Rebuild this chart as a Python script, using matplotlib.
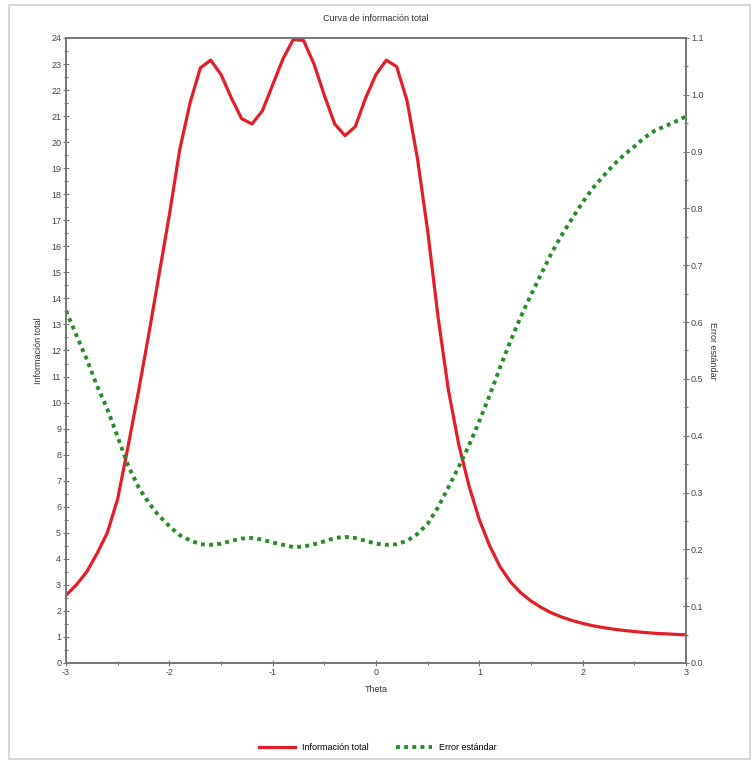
import matplotlib
matplotlib.use("Agg")
import matplotlib.pyplot as plt
from matplotlib.patches import Rectangle
from matplotlib.ticker import MultipleLocator

# values
theta = [-3.0, -2.9, -2.8, -2.7, -2.6, -2.5, -2.4, -2.3, -2.2, -2.1,
         -2.0, -1.9, -1.8, -1.7, -1.6, -1.5, -1.4, -1.3, -1.2, -1.1,
         -1.0, -0.9, -0.8, -0.7, -0.6, -0.5, -0.4, -0.3, -0.2, -0.1,
         0.0, 0.1, 0.2, 0.3, 0.4, 0.5, 0.6, 0.7, 0.8, 0.9,
         1.0, 1.1, 1.2, 1.3, 1.4, 1.5, 1.6, 1.7, 1.8, 1.9,
         2.0, 2.1, 2.2, 2.3, 2.4, 2.5, 2.6, 2.7, 2.8, 2.9, 3.0]
info_total = [2.6, 3.0, 3.5, 4.2, 5.0, 6.3, 8.3, 10.4, 12.6, 14.9,
              17.2, 19.7, 21.5, 22.85, 23.15, 22.6, 21.7, 20.9, 20.7, 21.2,
              22.2, 23.2, 23.95, 23.9, 23.0, 21.8, 20.7, 20.25, 20.6, 21.7,
              22.6, 23.15, 22.9, 21.6, 19.4, 16.6, 13.3, 10.5, 8.4, 6.8,
              5.5, 4.5, 3.7, 3.12, 2.7, 2.38, 2.13, 1.92, 1.76, 1.63,
              1.52, 1.43, 1.36, 1.30, 1.25, 1.21, 1.17, 1.14, 1.12, 1.10, 1.08]
error_std = [0.620, 0.577, 0.535, 0.488, 0.447, 0.398, 0.348, 0.310, 0.282, 0.259,
             0.241, 0.225, 0.216, 0.209, 0.208, 0.210, 0.215, 0.219, 0.220, 0.217,
             0.212, 0.208, 0.204, 0.205, 0.209, 0.214, 0.220, 0.222, 0.220, 0.215,
             0.210, 0.208, 0.209, 0.215, 0.227, 0.245, 0.274, 0.309, 0.345, 0.383,
             0.426, 0.471, 0.520, 0.566, 0.609, 0.648, 0.685, 0.722, 0.754, 0.783,
             0.811, 0.836, 0.857, 0.877, 0.894, 0.909, 0.925, 0.937, 0.945, 0.953, 0.962]

plt.rcParams['font.family'] = ['Liberation Sans', 'DejaVu Sans']
plt.rcParams['axes.unicode_minus'] = False
FS = 6.5
GRAY = '#777777'

fig = plt.figure(figsize=(7.56, 7.63), dpi=100)
# light window frame around the chart
fig.patches.append(Rectangle((9 / 756, 4 / 763), 741 / 756, 754 / 763,
                             transform=fig.transFigure, fill=False,
                             edgecolor='#d0d0d0', linewidth=1.2))

ax = fig.add_axes([66 / 756, 1 - 663 / 763, 620 / 756, 625 / 763])
ax2 = ax.twinx()

l1, = ax.plot(theta, info_total, color='#e41e26', linewidth=2.3,
              label='Información total', zorder=3)
l2, = ax2.plot(theta, error_std, color='#2a8a2a', linewidth=2.8,
               linestyle=(0, (1, 1.1)), label='Error estándar')

ax.set_xlim(-3, 3)
ax.set_ylim(0, 24)
ax2.set_ylim(0, 1.1)

ax.xaxis.set_major_locator(MultipleLocator(1))
ax.xaxis.set_minor_locator(MultipleLocator(0.5))
ax.yaxis.set_major_locator(MultipleLocator(1))
ax.yaxis.set_minor_locator(MultipleLocator(0.5))
ax2.yaxis.set_minor_locator(MultipleLocator(0.05))
ax2.set_yticks([i / 10 for i in range(12)])
ax2.set_yticklabels([f'{i / 10:.1f}' for i in range(12)])

for a in (ax, ax2):
    a.tick_params(which='both', direction='inout', colors='#444444',
                  labelsize=FS, pad=1)
    a.tick_params(which='major', length=5, width=0.8, color=GRAY)
    a.tick_params(which='minor', length=3, width=0.8, color=GRAY)
    for s in a.spines.values():
        s.set_color(GRAY)
        s.set_linewidth(1.2)

ax.set_title('Curva de información total', fontsize=FS, color='#333333', pad=12)
ax.set_xlabel('Theta', fontsize=FS, color='#333333', labelpad=6)
ax.set_ylabel('Información total', fontsize=FS, color='#333333', labelpad=6)
ax2.set_ylabel('Error estándar', fontsize=FS, color='#333333', rotation=270,
               labelpad=10)

fig.legend([l1, l2], ['Información total', 'Error estándar'],
           loc='center', bbox_to_anchor=(0.5, 1 - 748 / 763), ncol=2,
           frameon=False, fontsize=FS, handlelength=4, columnspacing=3)

fig.savefig('out.png', dpi=100)
